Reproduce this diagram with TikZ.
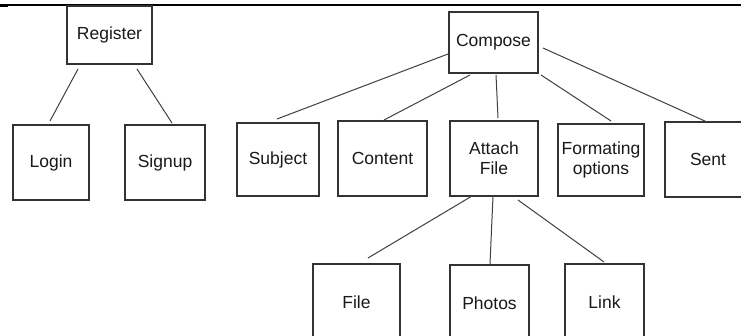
\documentclass[tikz,border=0pt]{standalone}
\usepackage{fontspec}
\setmainfont{Liberation Sans}
\begin{document}
\begin{tikzpicture}[x=1pt,y=-1pt,
  box/.style={draw=black!80,line width=1.3pt,rectangle,inner sep=0pt,align=center,
    font=\fontsize{17.5}{20}\selectfont,text=black!90},
  link/.style={draw=black!75,line width=1pt}]
\useasboundingbox (0,0) rectangle (741,336);
\fill[white] (0,0) rectangle (741,336);
\draw[line width=1.3pt] (0,5) -- (741,5);
\fill (0,5) rectangle (8,7.5);
% nodes
\node[box,minimum width=85,minimum height=58] (reg) at (109.5,35) {Register};
\node[box,minimum width=76,minimum height=75] (login) at (51,162.5) {Login};
\node[box,minimum width=80,minimum height=75] (signup) at (165,162.5) {Signup};
\node[box,minimum width=89,minimum height=61] (compose) at (493.5,42.5) {Compose};
\node[box,minimum width=82,minimum height=73] (subject) at (278,159.5) {Subject};
\node[box,minimum width=89,minimum height=75] (content) at (382.5,158.5) {Content};
\node[box,minimum width=88,minimum height=75] (attach) at (494,158.5) {Attach\\File};
\node[box,minimum width=86,minimum height=72] (format) at (601,160) {Formating\\options};
\node[box,minimum width=86,minimum height=75] (sent) at (708,159.5) {Sent};
\node[box,minimum width=87,minimum height=76] (file) at (356.5,302) {File};
\node[box,minimum width=79,minimum height=76] (photos) at (489.5,303) {Photos};
\node[box,minimum width=79,minimum height=76] (lnk) at (604.5,302) {Link};
% connector ends
\coordinate (r1) at (78,69);   \coordinate (l1) at (50,121);
\coordinate (r2) at (137,69);  \coordinate (s1) at (172,123);
\coordinate (c1) at (448,54);  \coordinate (sj) at (277,119);
\coordinate (c2) at (470,75);  \coordinate (ct) at (384,120);
\coordinate (c3) at (496,75);  \coordinate (at) at (498,118);
\coordinate (c4) at (541,75);  \coordinate (fo) at (611,121);
\coordinate (c5) at (543,48);  \coordinate (se) at (707,122);
\coordinate (a1) at (472,196); \coordinate (fi) at (368,258);
\coordinate (a2) at (493,196); \coordinate (ph) at (490,264);
\coordinate (a3) at (518,200); \coordinate (li) at (604,262);
\draw[link] (r1) -- (l1);
\draw[link] (r2) -- (s1);
\draw[link] (c1) -- (sj);
\draw[link] (c2) -- (ct);
\draw[link] (c3) -- (at);
\draw[link] (c4) -- (fo);
\draw[link] (c5) -- (se);
\draw[link] (a1) -- (fi);
\draw[link] (a2) -- (ph);
\draw[link] (a3) -- (li);
\end{tikzpicture}
\end{document}
